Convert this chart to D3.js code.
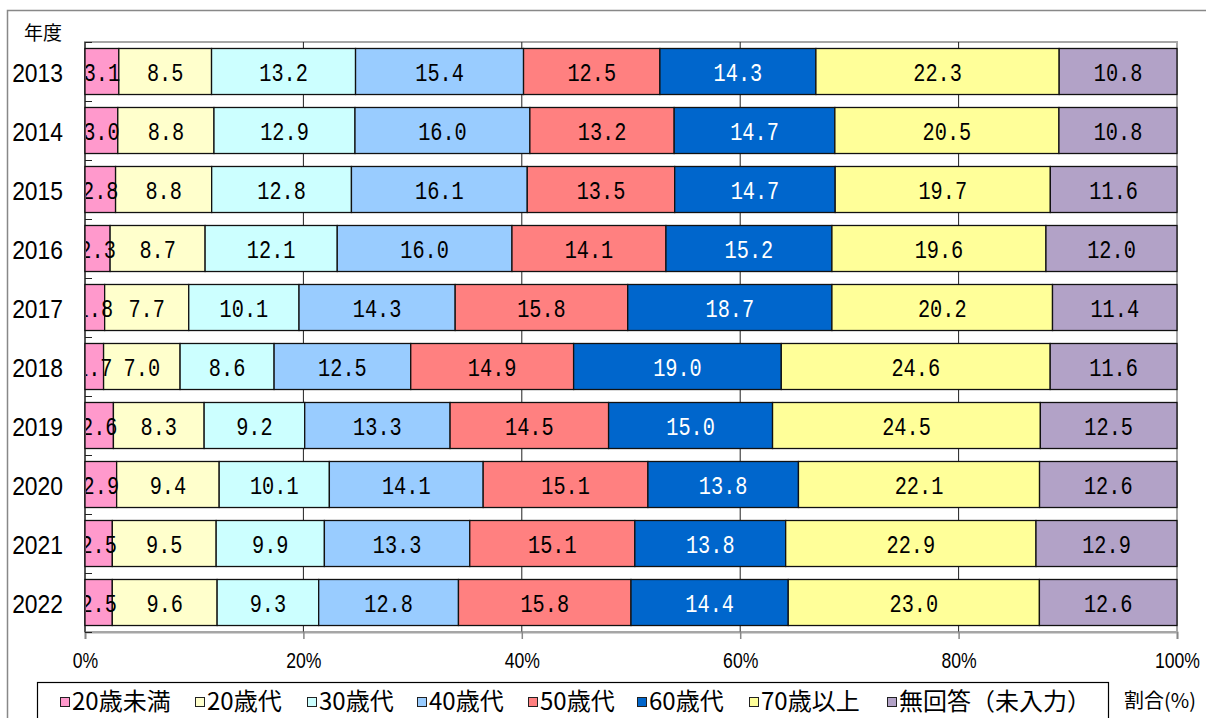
<!DOCTYPE html>
<html><head><meta charset="utf-8">
<script src="https://cdn.jsdelivr.net/npm/d3@7/dist/d3.min.js"></script>
<style>
html,body{margin:0;padding:0;background:#fff;}
svg{display:block;}
</style></head>
<body><svg id="c" width="1206" height="718"></svg>
<script>
const years = ["2013","2014","2015","2016","2017","2018","2019","2020","2021","2022"];
const seriesNames = ["20歳未満","20歳代","30歳代","40歳代","50歳代","60歳代","70歳以上","無回答（未入力）"];
const under20 = [3.1,3.0,2.8,2.3,1.8,1.7,2.6,2.9,2.5,2.5];
const age20s  = [8.5,8.8,8.8,8.7,7.7,7.0,8.3,9.4,9.5,9.6];
const age30s  = [13.2,12.9,12.8,12.1,10.1,8.6,9.2,10.1,9.9,9.3];
const age40s  = [15.4,16.0,16.1,16.0,14.3,12.5,13.3,14.1,13.3,12.8];
const age50s  = [12.5,13.2,13.5,14.1,15.8,14.9,14.5,15.1,15.1,15.8];
const age60s  = [14.3,14.7,14.7,15.2,18.7,19.0,15.0,13.8,13.8,14.4];
const age70up = [22.3,20.5,19.7,19.6,20.2,24.6,24.5,22.1,22.9,23.0];
const noAnswer= [10.8,10.8,11.6,12.0,11.4,11.6,12.5,12.6,12.9,12.6];
const xTicks = [0,0.2,0.4,0.6,0.8,1.0];
const colors = ["#FF99CC","#FFFFCC","#CCFFFF","#99CCFF","#FF8080","#0066CC","#FFFF99","#B2A2C7"];
const labelColors = ["#000","#000","#000","#000","#000","#fff","#000","#000"];

const seriesValues = [under20,age20s,age30s,age40s,age50s,age60s,age70up,noAnswer];
const table = years.map((y,i)=>{ const r={year:y}; seriesNames.forEach((s,j)=>r[s]=seriesValues[j][i]); return r; });
const stacked = d3.stack().keys(seriesNames).offset(d3.stackOffsetExpand)(table);

const svg = d3.select("#c");
const L=85, R=1177, T=42, B=632;
const x = d3.scaleLinear().domain([0,1]).range([L,R]);
const y = d3.scaleBand().domain(years).range([T,B]).paddingInner(0.22).paddingOuter(0.11);

// outer chart frame
svg.append("rect").attr("x",7.5).attr("y",10.5).attr("width",1400).attr("height",900)
  .attr("fill","none").attr("stroke","#888").attr("stroke-width",1.5);

// plot area border
svg.append("rect").attr("x",L).attr("y",T).attr("width",R-L).attr("height",B-T)
  .attr("fill","none").attr("stroke","#a6a6a6").attr("stroke-width",2);

// gridlines
svg.append("g").selectAll("line").data(xTicks.slice(1,-1)).join("line")
  .attr("x1",d=>x(d)).attr("x2",d=>x(d)).attr("y1",T).attr("y2",B)
  .attr("stroke","#222").attr("stroke-width",1);

// bottom axis
const xAxis = svg.append("g").attr("transform",`translate(0,${B})`)
  .call(d3.axisBottom(x).tickValues(xTicks).tickSize(7).tickFormat(d=>Math.round(d*100)+"%"));
xAxis.select(".domain").attr("stroke","#a6a6a6").attr("stroke-width",2);
xAxis.selectAll(".tick line").attr("stroke","#888").attr("stroke-width",1.5);
xAxis.selectAll(".tick text").each(function(d){
  const t=d3.select(this);
  t.attr("y",null).attr("dy",null).attr("font-family","Liberation Sans, Arial, sans-serif")
   .attr("font-size",22).attr("fill","#000")
   .attr("transform",`translate(0,36) scale(0.8,1)`);
});

// left axis
const yAxis = svg.append("g").attr("transform",`translate(${L},0)`);
yAxis.append("line").attr("x1",0).attr("x2",0).attr("y1",T).attr("y2",B).attr("stroke","#222").attr("stroke-width",1.2);
const bounds = years.map(yy=>y(yy)-y.step()*y.paddingInner()/2).concat([B]);
yAxis.selectAll("line.tk").data(bounds).join("line").attr("class","tk")
  .attr("x1",0).attr("x2",7).attr("y1",d=>Math.round(d)+0.5).attr("y2",d=>Math.round(d)+0.5)
  .attr("stroke","#222").attr("stroke-width",1);

// year labels
svg.append("g").selectAll("text").data(years).join("text")
  .attr("text-anchor","end").attr("font-family","Liberation Sans, Arial, sans-serif").attr("font-size",26)
  .attr("transform",d=>`translate(63,${y(d)+y.bandwidth()/2+10}) scale(0.88,1)`)
  .text(d=>d);

svg.append("text").attr("x",24).attr("y",40).attr("font-family","Noto Sans CJK JP").attr("font-size",19).text("年度");

// bars
const gBars = svg.append("g");
stacked.forEach((s,i)=>{
  gBars.append("g").selectAll("rect").data(s).join("rect")
    .attr("x",d=>x(d[0])).attr("width",d=>x(d[1])-x(d[0]))
    .attr("y",d=>y(d.data.year)).attr("height",y.bandwidth())
    .attr("fill",colors[i]).attr("stroke","#111").attr("stroke-width",1.3);
});

// labels
svg.append("clipPath").attr("id","pc").append("rect").attr("x",L+1).attr("y",T).attr("width",R-L).attr("height",B-T);
const gLab = svg.append("g").attr("clip-path","url(#pc)");
stacked.forEach((s,i)=>{
  gLab.append("g").selectAll("text").data(s).join("text")
    .attr("text-anchor","middle").attr("font-family","Liberation Mono, monospace").attr("font-size",26)
    .attr("fill",labelColors[i])
    .attr("transform",d=>`translate(${(x(d[0])+x(d[1]))/2},${y(d.data.year)+y.bandwidth()/2+9}) scale(0.78,1)`)
    .text(d=>d.data[s.key].toFixed(1));
});

// legend
svg.append("rect").attr("x",37.5).attr("y",682.5).attr("width",1071).attr("height",100)
  .attr("fill","none").attr("stroke","#000").attr("stroke-width",1.2);
const legX = [60,195,307,417,528,637,749,887];
const lg = svg.append("g").selectAll("g").data(seriesNames).join("g")
  .attr("transform",(d,i)=>`translate(${legX[i]},0)`);
lg.append("rect").attr("x",0.5).attr("y",697.5).attr("width",9).attr("height",9)
  .attr("fill",(d,i)=>colors[i]).attr("stroke","#222").attr("stroke-width",1);
lg.append("text").attr("x",12).attr("y",710).attr("font-family","Noto Sans CJK JP").attr("font-size",24)
  .attr("fill","#000").text(d=>d);

svg.append("text").attr("x",1124).attr("y",708).attr("font-family","Noto Sans CJK JP").attr("font-size",20).text("割合(%)");
</script></body></html>
